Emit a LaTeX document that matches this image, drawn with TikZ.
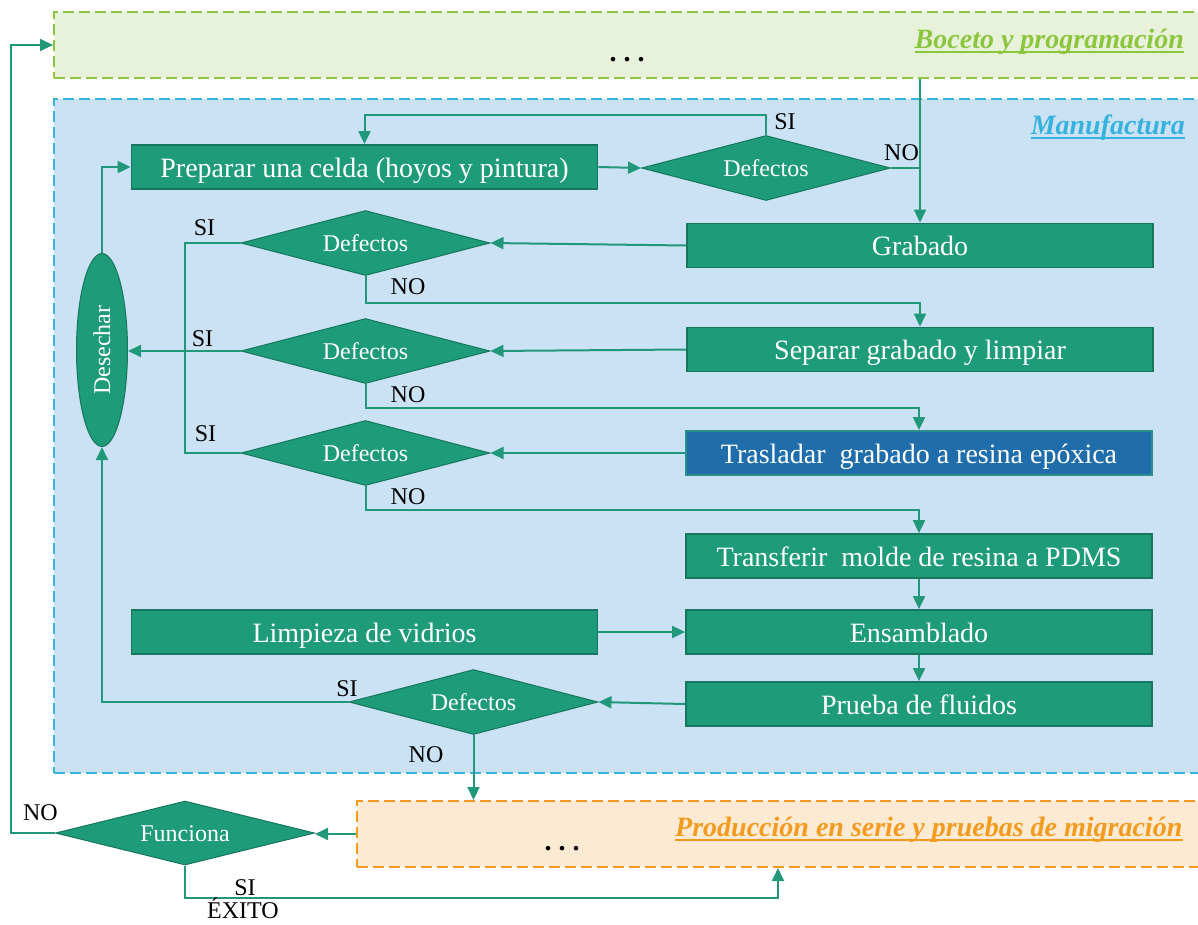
\documentclass[tikz,border=0pt]{standalone}
\usepackage{fontspec}
\usepackage{graphicx}
\setmainfont{Liberation Serif}
\usetikzlibrary{arrows.meta,shapes.geometric}

\definecolor{stepfill}{HTML}{1E9B78}
\definecolor{stepdraw}{HTML}{17775C}
\definecolor{linkcol}{HTML}{22987A}
\definecolor{trasfill}{HTML}{1F6DAA}
\definecolor{trasdraw}{HTML}{2A8F8A}
\definecolor{bocfill}{HTML}{E8F2DB}
\definecolor{bocline}{HTML}{8CC63F}
\definecolor{manfill}{HTML}{CBE2F4}
\definecolor{manline}{HTML}{35B2DD}
\definecolor{prodfill}{HTML}{FDEAD3}
\definecolor{prodline}{HTML}{F29B1E}

\newcommand{\spaceddots}{.\hspace{7pt}.\hspace{7pt}.}

\begin{document}
\begin{tikzpicture}[x=1pt,y=-1pt,
  stepbox/.style={rectangle, draw=stepdraw, line width=1.8pt, fill=stepfill,
    text=white, font=\fontsize{28}{30}\selectfont,
    text height=20pt, text depth=0pt,
    minimum width=466pt, minimum height=44pt, inner sep=0pt},
  decision/.style={diamond, shape aspect=3.8, draw=stepdraw, line width=1pt, fill=stepfill,
    text=white, font=\fontsize{24}{26}\selectfont,
    text height=16pt, text depth=0pt,
    minimum width=249pt, minimum height=65pt, inner sep=0pt},
  region/.style={rectangle, line width=2pt, dash pattern=on 11pt off 5pt, inner sep=0pt},
  link/.style={draw=linkcol, line width=2pt},
  arr/.style={link, -{Triangle[length=13pt,width=12pt]}},
  lbl/.style={font=\fontsize{24}{26}\selectfont, text=black, anchor=base, inner sep=0pt},
  ttl/.style={font=\fontsize{28}{30}\selectfont\bfseries\itshape, anchor=base east, inner sep=0pt},
  dots/.style={font=\fontsize{28}{30}\selectfont\bfseries, text=black, anchor=base, inner sep=0pt}]

\useasboundingbox (0,0) rectangle (1198,924);

% --- stage regions ---
\node[region, draw=bocline, fill=bocfill, minimum width=1161pt, minimum height=66pt] (boceto) at (634.5,45) {};
\node[region, draw=manline, fill=manfill, minimum width=1161pt, minimum height=674pt] (manuf) at (634.5,436) {};
\node[region, draw=prodline, fill=prodfill, minimum width=858pt, minimum height=66pt] (prod) at (786,834) {};

\node[ttl, text=bocline] (tb) at (1184,48) {Boceto y programación};
\draw[bocline, line width=2pt] ([yshift=-4pt]tb.base west) -- ([yshift=-4pt]tb.base east);
\node[ttl, text=manline] (tm) at (1185,134) {Manufactura};
\draw[manline, line width=2pt] ([yshift=-4pt]tm.base west) -- ([yshift=-4pt]tm.base east);
\node[ttl, text=prodline] (tp) at (1182.5,836) {Producción en serie y pruebas de migración};
\draw[prodline, line width=2pt] ([yshift=-4pt]tp.base west) -- ([yshift=-4pt]tp.base east);

\node[dots] (dtop) at (627,61) {\spaceddots};
\node[dots] (dbot) at (562,850) {\spaceddots};

% --- process steps ---
\node[stepbox] (prep) at (364.5,167) {Preparar una celda (hoyos y pintura)};
\node[decision] (d1) at (766,168) {Defectos};
\node[stepbox] (gr) at (920,245.5) {Grabado};
\node[decision] (d2) at (365.5,243) {Defectos};
\node[stepbox] (sep) at (920,349.5) {Separar grabado y limpiar};
\node[decision] (d3) at (365.5,351) {Defectos};
\node[stepbox, fill=trasfill, draw=trasdraw] (tra) at (919,453) {Trasladar\hspace{0.5em}grabado a resina epóxica};
\node[decision] (d4) at (365.5,453) {Defectos};
\node[stepbox] (tf) at (919,556) {Transferir\hspace{0.5em}molde de resina a PDMS};
\node[stepbox] (lim) at (364.5,632) {Limpieza de vidrios};
\node[stepbox] (ens) at (919,632) {Ensamblado};
\node[stepbox] (pf) at (919,704) {Prueba de fluidos};
\node[decision] (d5) at (473.5,702) {Defectos};
\node[decision, minimum width=259pt, minimum height=64pt] (fun) at (185,833) {Funciona};
\node[ellipse, draw=stepdraw, line width=1pt, fill=stepfill, text=white,
  font=\fontsize{24}{26}\selectfont, minimum width=51pt, minimum height=193pt,
  inner sep=0pt] (des) at (102,350) {\rotatebox{90}{Desechar}};

% --- connectors ---
\draw[arr] (prep.east) -- (d1.west);
\draw[arr] (d1.north) -- ++(0,-20) -| (prep.north);
\draw[link] (d1.east) -- (d1.east -| gr.north);
\draw[arr] (boceto.south -| gr.north) -- (gr.north);
\draw[arr] (gr.west) -- (d2.east);
\draw[arr] (sep.west) -- (d3.east);
\draw[arr] (tra.west) -- (d4.east);
\draw[arr] (d2.south) -- ++(0,27) -| (sep.north);
\draw[arr] (d3.south) -- ++(0,24) -| (tra.north);
\draw[arr] (d4.south) -- ++(0,24) -| (tf.north);
\draw[link] (d2.west) -- ++(-56,0) |- (d4.west);
\draw[arr] (d3.west) -- (d3.west -| des.east);
\draw[arr] (des.north) |- (prep.west);
\draw[arr] (d5.west) -| (des.south);
\draw[arr] (lim.east) -- (ens.west);
\draw[arr] (tf.south) -- (ens.north);
\draw[arr] (ens.south) -- (pf.north);
\draw[arr] (pf.west) -- (d5.east);
\draw[arr] (d5.south) -- (d5.south |- prod.north);
\draw[arr] (prod.west) -- (prod.west -| fun.east);
\draw[arr] (fun.west) -- ++(-44,0) |- (boceto.west);
\path (prod.south west) ++(422,0) coordinate (pin);
\draw[arr] (fun.south) -- ++(0,32) -| (pin);

% --- branch labels ---
\node[lbl] (l1s) at (785,129) {SI};
\node[lbl] (l1n) at (901.5,160.5) {NO};
\node[lbl] (l2s) at (204.5,235.5) {SI};
\node[lbl] (l2n) at (408,294) {NO};
\node[lbl] (l3s) at (202.5,346.5) {SI};
\node[lbl] (l3n) at (408,402.5) {NO};
\node[lbl] (l4s) at (205.5,441.5) {SI};
\node[lbl] (l4n) at (408,504) {NO};
\node[lbl] (l5s) at (347,696.5) {SI};
\node[lbl] (l5n) at (426,762) {NO};
\node[lbl] (lfn) at (40.5,820.5) {NO};
\node[lbl] (lfs) at (245,895) {SI};
\node[lbl] (lex) at (243,918.5) {ÉXITO};
\end{tikzpicture}
\end{document}
